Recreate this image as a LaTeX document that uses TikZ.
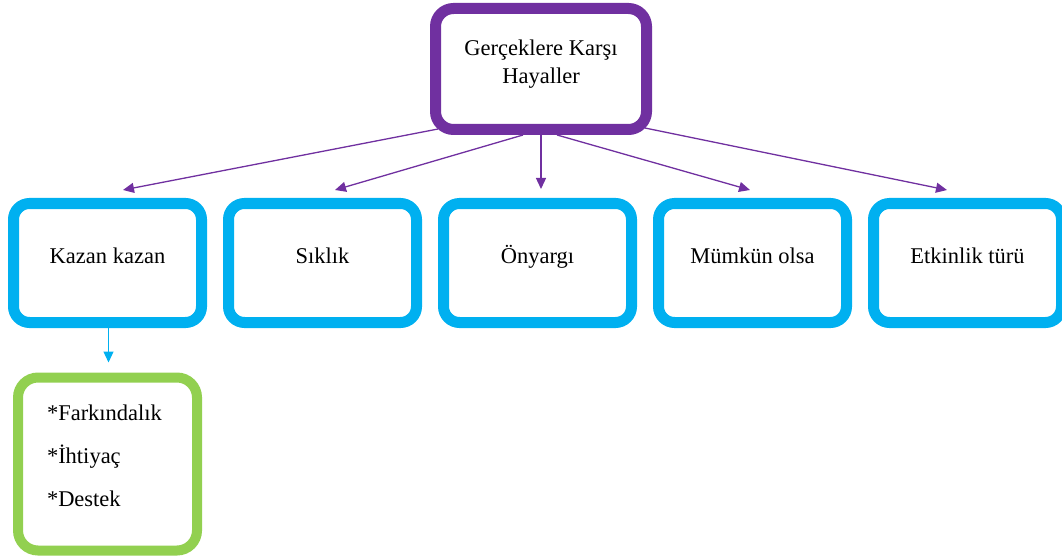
\documentclass[tikz,border=0pt]{standalone}
\usepackage{fontspec}
\setmainfont{Liberation Serif}
\usetikzlibrary{arrows.meta, positioning, calc}

\definecolor{mor}{HTML}{7030A0}
\definecolor{mavi}{HTML}{00B0F0}
\definecolor{yesil}{HTML}{92D050}

\begin{document}
\begin{tikzpicture}[x=1pt,y=1pt,
  kutu/.style={draw=mavi, line width=11pt, rounded corners=16pt, fill=white,
    minimum width=188pt, minimum height=119pt, text height=15pt, text depth=15pt,
    font=\fontsize{22.5}{28}\selectfont},
  baslik/.style={draw=mor, line width=11pt, rounded corners=18pt, fill=white,
    minimum width=211pt, minimum height=121pt, align=center,
    font=\fontsize{22.5}{28}\selectfont},
  liste/.style={draw=yesil, line width=10pt, rounded corners=20pt, fill=white,
    minimum width=179pt, minimum height=173pt, text width=121pt, align=left,
    font=\fontsize{22.5}{43}\selectfont},
  ok/.style={line width=1.3pt, -{Triangle[length=11pt,width=10pt]}}]
\useasboundingbox (0,0) rectangle (1062,-556);
% top box
\node[baslik] (gercek) at (541,-69) {Ger\c{c}eklere Kar\c{s}\i\\Hayaller\rule[-15pt]{0pt}{0pt}};
% second row
\node[kutu] (kazan) at (107.5,-263) {Kazan kazan};
\node[kutu] (siklik) at (322.5,-263) {S\i kl\i k};
\node[kutu] (onyargi) at (537.5,-263) {\"Onyarg\i};
\node[kutu] (mumkun) at (752.5,-263) {M\"umk\"un olsa};
\node[kutu] (etkinlik) at (967.5,-263) {Etkinlik t\"ur\"u};
% list under Kazan kazan
\node[liste] (madde) at (107.5,-464) {*Farkındalık\\{*}İhtiyaç\\{*}Destek\rule[-17pt]{0pt}{0pt}};
% arrows
\draw[ok,mor] ([shift={(8pt,6pt)}]gercek.south west) -- ([shift={(15.5pt,8pt)}]kazan.north);
\draw[ok,mor] ([xshift=-18pt]gercek.south) -- ([shift={(12.5pt,8pt)}]siklik.north);
\draw[ok,mor] (gercek.south) -- ([shift={(3.5pt,9pt)}]onyargi.north);
\draw[ok,mor] ([xshift=16pt]gercek.south) -- ([shift={(-2.5pt,8pt)}]mumkun.north);
\draw[ok,mor] ([shift={(-7pt,7pt)}]gercek.south east) -- ([shift={(-20.5pt,8pt)}]etkinlik.north);
\draw[ok,mavi] ([xshift=1pt]kazan.south) -- ([shift={(1pt,10pt)}]madde.north);
\end{tikzpicture}
\end{document}
